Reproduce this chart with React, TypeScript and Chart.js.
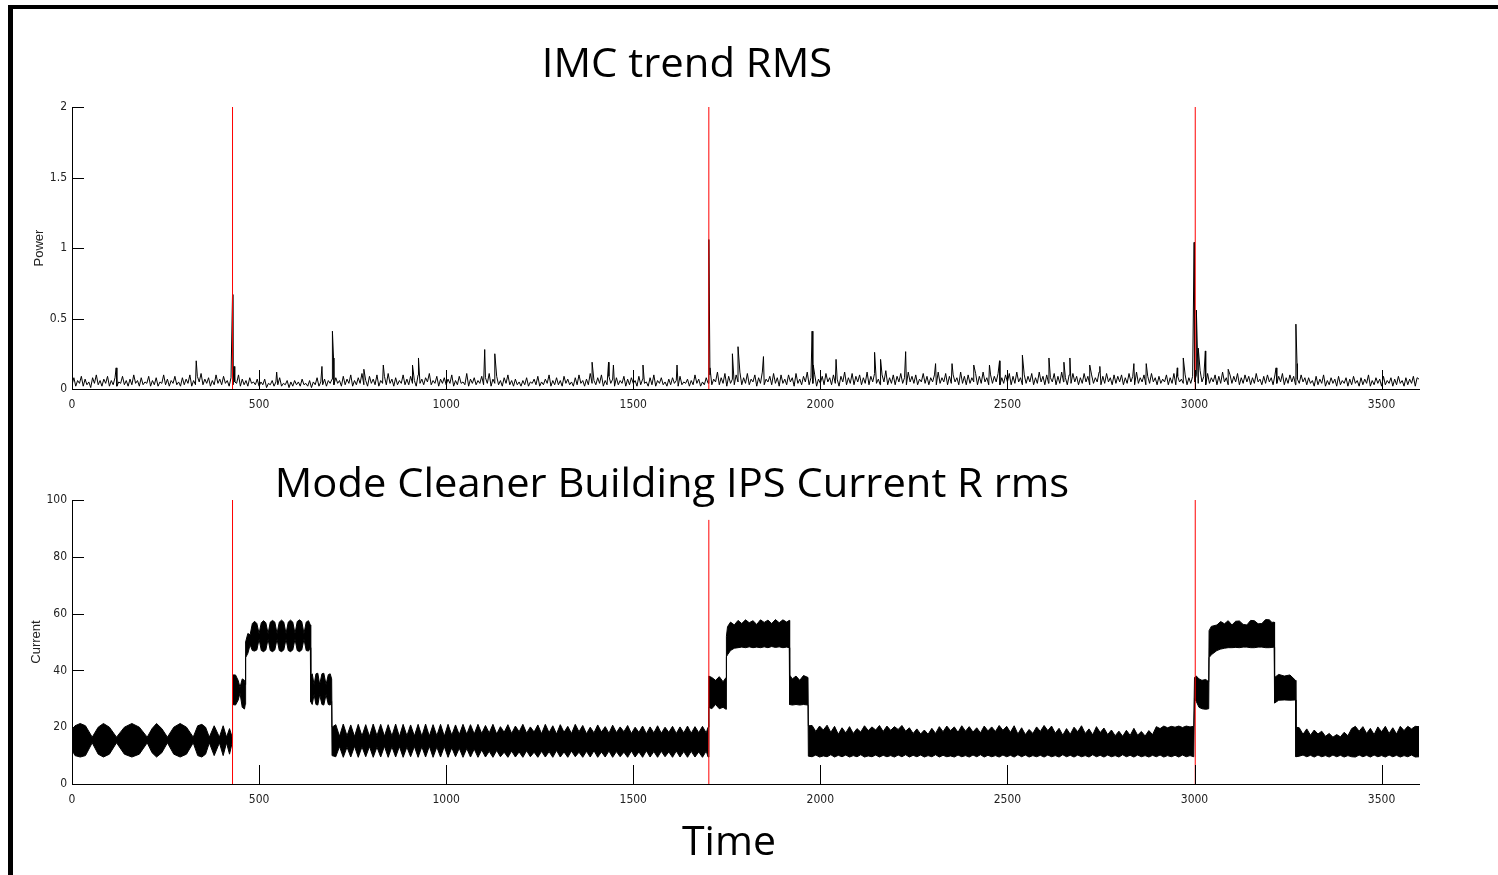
import React, { useEffect, useRef } from "react";
import { Chart, registerables } from "chart.js";

Chart.register(...registerables);

// Axis ticks
const timeTicks = [0, 500, 1000, 1500, 2000, 2500, 3000, 3500];
const timeMax = 3600;
const powerTicks = [0, 0.5, 1, 1.5, 2];
const currentTicks = [0, 20, 40, 60, 80, 100];

// IMC trend RMS, one sample every 5 s from t = 0 to 3600 (20 samples per row)
const powerStep = 5;
const powerBase = [
  0.03, 0.08, 0.02, 0.06, 0.04, 0.09, 0.02, 0.07, 0.03, 0.05, 0.01, 0.08, 0.04, 0.10, 0.03, 0.06, 0.02, 0.07, 0.04, 0.09,
  0.02, 0.06, 0.03, 0.08, 0.02, 0.05, 0.04, 0.09, 0.03, 0.06, 0.02, 0.07, 0.03, 0.10, 0.04, 0.06, 0.02, 0.08, 0.03, 0.05,
  0.04, 0.09, 0.02, 0.06, 0.03, 0.08, 0.02, 0.05, 0.04, 0.10, 0.03, 0.07, 0.02, 0.06, 0.04, 0.09, 0.03, 0.05, 0.02, 0.08,
  0.03, 0.07, 0.04, 0.10, 0.02, 0.06, 0.03, 0.09, 0.05, 0.11, 0.03, 0.07, 0.04, 0.08, 0.02, 0.06, 0.03, 0.10, 0.04, 0.07,
  0.03, 0.09, 0.04, 0.06, 0.02, 0.08, 0.03, 0.05, 0.04, 0.10, 0.02, 0.07, 0.03, 0.06, 0.02, 0.08, 0.04, 0.05, 0.03, 0.07,
  0.02, 0.05, 0.03, 0.07, 0.01, 0.04, 0.03, 0.06, 0.02, 0.05, 0.03, 0.08, 0.02, 0.04, 0.03, 0.06, 0.01, 0.05, 0.02, 0.06,
  0.03, 0.05, 0.02, 0.07, 0.03, 0.04, 0.02, 0.06, 0.01, 0.05, 0.03, 0.08, 0.02, 0.05, 0.03, 0.07, 0.02, 0.06, 0.04, 0.07,
  0.03, 0.08, 0.04, 0.06, 0.02, 0.09, 0.03, 0.07, 0.04, 0.10, 0.02, 0.06, 0.03, 0.08, 0.04, 0.11, 0.03, 0.06, 0.02, 0.09,
  0.04, 0.07, 0.03, 0.10, 0.02, 0.06, 0.04, 0.09, 0.03, 0.11, 0.04, 0.07, 0.02, 0.08, 0.03, 0.06, 0.04, 0.10, 0.03, 0.07,
  0.03, 0.09, 0.04, 0.06, 0.02, 0.10, 0.04, 0.07, 0.03, 0.08, 0.05, 0.11, 0.03, 0.06, 0.04, 0.09, 0.02, 0.07, 0.04, 0.08,
  0.03, 0.07, 0.04, 0.10, 0.02, 0.06, 0.03, 0.09, 0.04, 0.05, 0.03, 0.11, 0.02, 0.07, 0.04, 0.08, 0.03, 0.06, 0.04, 0.09,
  0.03, 0.08, 0.04, 0.11, 0.02, 0.07, 0.04, 0.09, 0.03, 0.06, 0.02, 0.08, 0.04, 0.10, 0.03, 0.06, 0.02, 0.07, 0.03, 0.05,
  0.02, 0.06, 0.03, 0.08, 0.02, 0.05, 0.04, 0.07, 0.03, 0.09, 0.02, 0.05, 0.03, 0.07, 0.04, 0.10, 0.02, 0.06, 0.03, 0.08,
  0.03, 0.06, 0.02, 0.09, 0.04, 0.07, 0.03, 0.05, 0.02, 0.08, 0.03, 0.10, 0.04, 0.06, 0.02, 0.07, 0.03, 0.11, 0.04, 0.06,
  0.03, 0.08, 0.04, 0.10, 0.02, 0.06, 0.03, 0.09, 0.04, 0.07, 0.02, 0.08, 0.03, 0.06, 0.04, 0.09, 0.02, 0.07, 0.03, 0.08,
  0.04, 0.06, 0.02, 0.09, 0.03, 0.07, 0.04, 0.05, 0.02, 0.08, 0.03, 0.10, 0.02, 0.06, 0.04, 0.08, 0.03, 0.05, 0.02, 0.07,
  0.03, 0.08, 0.04, 0.06, 0.02, 0.09, 0.03, 0.05, 0.04, 0.07, 0.02, 0.06, 0.03, 0.10, 0.04, 0.07, 0.02, 0.05, 0.03, 0.08,
  0.04, 0.10, 0.03, 0.07, 0.05, 0.12, 0.03, 0.08, 0.04, 0.11, 0.02, 0.09, 0.04, 0.07, 0.03, 0.10, 0.05, 0.12, 0.03, 0.08,
  0.04, 0.11, 0.03, 0.07, 0.05, 0.10, 0.02, 0.08, 0.04, 0.12, 0.03, 0.07, 0.05, 0.09, 0.03, 0.11, 0.04, 0.08, 0.02, 0.10,
  0.04, 0.07, 0.03, 0.10, 0.05, 0.08, 0.02, 0.11, 0.04, 0.07, 0.03, 0.09, 0.05, 0.12, 0.03, 0.08, 0.04, 0.10, 0.02, 0.07,
  0.04, 0.09, 0.03, 0.11, 0.05, 0.08, 0.03, 0.10, 0.04, 0.07, 0.02, 0.09, 0.05, 0.12, 0.03, 0.08, 0.04, 0.11, 0.03, 0.09,
  0.05, 0.10, 0.03, 0.08, 0.04, 0.12, 0.03, 0.09, 0.05, 0.11, 0.04, 0.07, 0.03, 0.10, 0.05, 0.13, 0.03, 0.08, 0.04, 0.10,
  0.03, 0.09, 0.05, 0.11, 0.04, 0.08, 0.03, 0.12, 0.05, 0.09, 0.04, 0.10, 0.03, 0.07, 0.05, 0.11, 0.04, 0.09, 0.03, 0.08,
  0.05, 0.10, 0.03, 0.12, 0.04, 0.08, 0.05, 0.11, 0.03, 0.09, 0.04, 0.10, 0.05, 0.08, 0.03, 0.12, 0.04, 0.09, 0.03, 0.10,
  0.04, 0.08, 0.05, 0.11, 0.03, 0.09, 0.04, 0.12, 0.05, 0.08, 0.03, 0.10, 0.04, 0.09, 0.05, 0.11, 0.03, 0.08, 0.04, 0.10,
  0.05, 0.11, 0.03, 0.09, 0.04, 0.12, 0.05, 0.08, 0.03, 0.10, 0.04, 0.09, 0.05, 0.11, 0.03, 0.08, 0.04, 0.12, 0.05, 0.09,
  0.03, 0.10, 0.04, 0.08, 0.05, 0.11, 0.03, 0.09, 0.04, 0.12, 0.05, 0.08, 0.03, 0.10, 0.04, 0.11, 0.05, 0.09, 0.03, 0.08,
  0.04, 0.11, 0.05, 0.09, 0.03, 0.10, 0.04, 0.08, 0.05, 0.12, 0.03, 0.09, 0.04, 0.11, 0.05, 0.08, 0.03, 0.10, 0.04, 0.09,
  0.05, 0.10, 0.03, 0.08, 0.04, 0.11, 0.05, 0.09, 0.03, 0.12, 0.04, 0.08, 0.05, 0.10, 0.03, 0.09, 0.04, 0.11, 0.05, 0.08,
  0.03, 0.09, 0.04, 0.07, 0.05, 0.10, 0.03, 0.08, 0.04, 0.11, 0.03, 0.09, 0.05, 0.07, 0.04, 0.10, 0.03, 0.08, 0.04, 0.09,
  0.05, 0.10, 0.04, 0.13, 0.05, 0.09, 0.03, 0.11, 0.04, 0.08, 0.05, 0.10, 0.03, 0.09, 0.04, 0.12, 0.05, 0.08, 0.03, 0.10,
  0.04, 0.09, 0.05, 0.11, 0.03, 0.08, 0.04, 0.10, 0.05, 0.09, 0.03, 0.08, 0.04, 0.11, 0.05, 0.07, 0.03, 0.09, 0.04, 0.10,
  0.05, 0.08, 0.03, 0.10, 0.04, 0.09, 0.05, 0.11, 0.03, 0.08, 0.04, 0.10, 0.05, 0.09, 0.03, 0.07, 0.04, 0.10, 0.05, 0.08,
  0.03, 0.08, 0.04, 0.06, 0.02, 0.09, 0.03, 0.07, 0.04, 0.10, 0.02, 0.06, 0.03, 0.08, 0.04, 0.07, 0.02, 0.09, 0.03, 0.06,
  0.04, 0.08, 0.02, 0.07, 0.03, 0.09, 0.04, 0.06, 0.02, 0.08, 0.03, 0.07, 0.04, 0.10, 0.02, 0.06, 0.03, 0.08, 0.04, 0.07,
  0.02, 0.09, 0.03, 0.06, 0.04, 0.08, 0.02, 0.07, 0.03, 0.09, 0.04, 0.06, 0.02, 0.08, 0.03, 0.07, 0.04, 0.09, 0.02, 0.08,
  0.07,
];

// Isolated peaks of the power trace: [time, power]
const powerSpikes: [number, number][] = [
  [118, 0.15], [332, 0.2], [429, 0.67], [433, 0.16], [547, 0.12],
  [668, 0.16], [696, 0.41], [699, 0.22], [780, 0.14], [832, 0.17],
  [910, 0.17], [926, 0.22], [1103, 0.28], [1130, 0.25], [1390, 0.19],
  [1434, 0.19], [1447, 0.17], [1526, 0.17], [1617, 0.17], [1702, 1.06],
  [1705, 0.15], [1765, 0.25], [1780, 0.3], [1848, 0.23], [1978, 0.41],
  [1981, 0.17], [2042, 0.21], [2145, 0.26], [2161, 0.21], [2228, 0.265],
  [2308, 0.18], [2352, 0.18], [2410, 0.17], [2452, 0.17], [2479, 0.2],
  [2540, 0.24], [2611, 0.22], [2651, 0.19], [2667, 0.22], [2720, 0.17],
  [2747, 0.16], [2838, 0.18], [2871, 0.18], [2954, 0.15], [2970, 0.22],
  [2999, 1.04], [3005, 0.56], [3010, 0.29], [3029, 0.27], [3090, 0.14],
  [3218, 0.15], [3271, 0.46], [3274, 0.18],
];

// IPS current R rms as an oscillation band: [time, lower edge, upper edge]
const currentEnvelope: [number, number, number][] = [
  [0, 12, 19], [8, 10, 20.5], [22, 9.5, 21.3], [36, 10, 20.5], [54, 14.5, 16.5],
  [70, 10.5, 20], [84, 9.5, 21.3], [100, 10.5, 20], [119, 14.5, 16.5], [140, 10.5, 20],
  [160, 9.5, 21.3], [180, 10.5, 20], [201, 14.5, 16.5], [214, 11, 19.5], [226, 9.5, 21.3],
  [240, 11, 19.5], [255, 14.5, 16.5], [272, 10.5, 20], [289, 9.5, 21.3], [306, 10.5, 20],
  [324, 14.5, 16.5], [336, 10, 20.5], [347, 9.5, 21], [357, 10.5, 20], [367, 14.5, 16.5],
  [380, 10, 20.5], [394, 14.5, 16.5], [404, 10, 20.5], [413, 14.5, 16.5], [421, 10.5, 19.5],
  [428, 14.5, 16.5],
  [429, 28, 38.4], [437, 27.8, 38.4], [444, 29.5, 36.5], [449, 32, 34], [455, 27, 37],
  [461, 26.4, 36.5], [463, 28, 35],
  [464, 44.5, 50], [470, 46, 53], [476, 49, 52.5], [482, 47, 56.5], [488, 46.8, 57.3],
  [494, 47.2, 56.5], [500, 51, 53], [506, 47, 56.8], [512, 46.6, 57.5], [518, 47.2, 56.8],
  [524, 51, 53], [530, 47, 57], [536, 46.6, 57.6], [542, 47.2, 57], [548, 51, 53],
  [554, 47, 57], [560, 46.6, 57.7], [566, 47.2, 57], [572, 51, 53], [578, 47, 57],
  [584, 46.6, 57.7], [590, 47.2, 57], [596, 51, 53], [602, 47, 57.2], [608, 46.6, 57.8],
  [614, 47.2, 57.2], [620, 51, 53], [626, 47, 57], [632, 46.8, 57.5], [637, 48, 56],
  [638, 29, 38], [642, 28, 38.8], [647, 31.5, 35], [652, 28, 38.8], [657, 27.8, 39],
  [662, 31.5, 35], [668, 28, 38.8], [673, 27.8, 39], [679, 31.5, 35], [685, 28, 38.5],
  [690, 27.8, 38.8], [694, 29, 37],
  [695, 10, 20],
  [705, 9.6, 20.9], [715, 13.2, 16.8], [725, 9.4, 21.1], [735, 13, 17], [745, 9.5, 20.8],
  [755, 13.3, 16.7], [765, 9.4, 21], [775, 13.1, 16.9], [785, 9.6, 20.9], [795, 13.2, 16.8],
  [805, 9.4, 21.1], [815, 13, 17], [825, 9.5, 21], [835, 13.3, 16.8], [845, 9.4, 20.9],
  [855, 13.1, 16.9], [865, 9.5, 21.1], [875, 13.2, 16.7], [885, 9.4, 21], [895, 13, 17],
  [905, 9.6, 20.8], [915, 13.2, 16.9], [925, 9.4, 21], [935, 13.1, 16.8], [945, 9.5, 21.1],
  [955, 13.3, 16.9], [965, 9.4, 20.9], [975, 13, 17], [985, 9.5, 21], [995, 13.2, 16.8],
  [1005, 9.4, 21], [1015, 12.8, 17.2], [1025, 9.6, 20.8], [1035, 12.6, 17.4], [1045, 9.4, 21],
  [1055, 12.5, 17.5], [1065, 9.5, 20.9], [1075, 12.3, 17.6], [1085, 9.4, 21], [1095, 12, 17.8],
  [1105, 9.5, 20.6], [1115, 11.5, 18], [1125, 9.4, 21], [1135, 11.8, 17.6], [1145, 9.6, 20.2],
  [1155, 11.2, 18.2], [1165, 9.4, 20.9], [1175, 11.6, 17.8], [1185, 9.5, 20.4], [1195, 11.3, 18.4],
  [1205, 9.4, 21], [1215, 11.7, 17.9], [1225, 9.6, 20.1], [1235, 11.2, 18.3], [1245, 9.4, 20.8],
  [1255, 11.5, 17.7], [1265, 9.5, 21], [1275, 11.4, 18.1], [1285, 9.4, 20.5], [1295, 11.8, 17.6],
  [1305, 9.5, 20.9], [1315, 11.3, 18.2], [1325, 9.4, 20.3], [1335, 11.6, 17.8], [1345, 9.6, 21],
  [1355, 11.2, 18.4], [1365, 9.4, 20.6], [1375, 11.5, 17.7], [1385, 9.5, 20], [1395, 11.7, 18],
  [1405, 9.4, 20.8], [1415, 11.3, 18.3], [1425, 9.5, 20.2], [1435, 11.6, 17.9], [1445, 9.4, 20.7],
  [1455, 11.4, 18.1], [1465, 9.6, 20.1], [1475, 11.2, 18.4], [1485, 9.4, 20.6], [1495, 11.6, 17.8],
  [1505, 9.5, 20], [1515, 11.3, 18.2], [1525, 9.4, 20.4], [1535, 11.7, 17.7], [1545, 9.5, 20.1],
  [1555, 11.4, 18], [1565, 9.4, 20.5], [1575, 11.5, 17.9], [1585, 9.6, 20], [1595, 11.3, 18.2],
  [1605, 9.4, 20.3], [1615, 11.6, 17.8], [1625, 9.5, 20.1], [1635, 11.4, 18], [1645, 9.4, 20.4],
  [1655, 11.5, 17.9], [1665, 9.5, 20.2], [1675, 11.3, 18.1], [1685, 9.4, 20.3], [1695, 11.6, 18],
  [1700, 9.5, 20],
  [1702, 27, 38], [1710, 26.5, 37.5], [1720, 28, 36.5], [1730, 26.5, 37.8], [1740, 27, 36],
  [1748, 26.3, 37.5],
  [1749, 44.8, 52], [1752, 45.5, 55.4], [1760, 47, 57], [1770, 47.8, 56], [1780, 48, 57.6],
  [1790, 48.2, 56.5], [1800, 48, 57.8], [1810, 48.3, 56.8], [1820, 48, 57.5], [1830, 48.2, 56.2],
  [1840, 48, 57.8], [1850, 48.3, 56.9], [1860, 48, 57.7], [1870, 48.4, 56.5], [1880, 48.1, 57.9],
  [1890, 48.3, 56.8], [1900, 48, 57.8], [1910, 48.2, 57], [1917, 48, 57.6],
  [1918, 28, 38.4], [1925, 27.8, 37], [1935, 28, 38], [1945, 27.8, 36.5], [1955, 28, 38.2],
  [1967, 27.8, 37.5],
  [1968, 9.8, 20.5], [1978, 9.6, 20.6], [1988, 10.2, 18.5], [1998, 9.5, 20.4], [2008, 9.9, 19],
  [2018, 9.6, 20.7], [2028, 10.3, 18.2], [2038, 9.5, 20.3], [2048, 10.1, 17.5], [2058, 9.6, 19.8],
  [2068, 10.2, 18], [2078, 9.5, 20.2], [2088, 10, 17.8], [2098, 9.6, 19.5], [2108, 10.3, 18.3],
  [2118, 9.5, 20.5], [2128, 9.9, 18.8], [2138, 9.6, 20.1], [2148, 10.2, 19], [2158, 9.5, 20.6],
  [2168, 10.1, 18.5], [2178, 9.6, 20.4], [2188, 10, 18.9], [2198, 9.5, 20.2], [2208, 10.2, 19.2],
  [2218, 9.6, 20.6], [2228, 10.3, 18.6], [2238, 9.5, 19.8], [2248, 10.1, 17.8], [2258, 9.6, 19.4],
  [2268, 10.2, 17.6], [2278, 9.5, 19], [2288, 10, 17.5], [2298, 9.6, 19.6], [2308, 10.3, 17.8],
  [2318, 9.5, 20.2], [2328, 10.1, 18.4], [2338, 9.6, 20.4], [2348, 9.9, 18.8], [2358, 9.5, 20.1],
  [2368, 10.2, 18.2], [2378, 9.6, 20.5], [2388, 10, 18.6], [2398, 9.5, 20.2], [2408, 10.2, 18.3],
  [2418, 9.6, 19.8], [2428, 10.3, 18], [2438, 9.5, 20.4], [2448, 10.1, 18.7], [2458, 9.6, 20.1],
  [2468, 10, 18.5], [2478, 9.5, 20.6], [2488, 10.2, 18.9], [2498, 9.6, 20.3], [2508, 10.1, 18.2],
  [2518, 9.5, 20.5], [2528, 10.3, 17.6], [2538, 9.6, 19.8], [2548, 10.2, 17.4], [2558, 9.5, 19.2],
  [2568, 10, 17.8], [2578, 9.6, 20.1], [2588, 10.1, 18.5], [2598, 9.5, 20.6], [2608, 10.2, 18.8],
  [2618, 9.6, 20.4], [2628, 10, 17.9], [2638, 9.5, 19.6], [2648, 10.3, 17.2], [2658, 9.6, 19.5],
  [2668, 10.1, 17.5], [2678, 9.5, 20], [2688, 10.2, 18.4], [2698, 9.6, 20.5], [2708, 10, 17.8],
  [2718, 9.5, 19.4], [2728, 10.3, 17.3], [2738, 9.6, 20.2], [2748, 10.1, 18.1], [2758, 9.5, 19.7],
  [2768, 10.2, 17.4], [2778, 9.6, 19], [2788, 10, 17], [2798, 9.5, 18.6], [2808, 10.3, 16.8],
  [2818, 9.6, 18.9], [2828, 10.1, 17.1], [2838, 9.5, 19.6], [2848, 10.2, 17.2], [2858, 9.6, 18.5],
  [2868, 10, 16.9], [2878, 9.5, 18.8], [2888, 10.1, 17.4], [2898, 9.6, 20.2], [2908, 10.2, 19.5],
  [2918, 9.5, 20.4], [2928, 10, 19.8], [2938, 9.6, 20.3], [2948, 10.1, 20], [2958, 9.5, 20.4],
  [2968, 10.2, 19.9], [2978, 9.6, 20.4], [2988, 10, 20.1], [2998, 9.6, 20.3],
  [3000, 30, 37.5], [3005, 29, 38], [3012, 27, 37], [3020, 26.5, 36.5], [3030, 26.3, 36.8],
  [3038, 26.5, 36],
  [3039, 44.5, 54], [3045, 45.5, 55.5], [3060, 47, 56], [3070, 47.5, 57.2], [3080, 47.8, 56.4],
  [3090, 48, 57.5], [3100, 48, 56], [3110, 48.1, 57.3], [3120, 48, 57.4], [3130, 48.2, 56.2],
  [3140, 48.2, 56], [3150, 48, 57.6], [3160, 48, 57.5], [3170, 48.2, 56.4], [3180, 48.2, 56.5],
  [3190, 48, 57.9], [3200, 48, 57.8], [3207, 48.1, 56.9], [3213, 48.2, 57],
  [3214, 28.5, 37.5], [3225, 29.5, 38.6], [3240, 29.6, 38], [3255, 29.5, 38.4], [3270, 29.6, 36.5],
  [3271, 9.6, 20], [3280, 9.8, 19.8], [3290, 10.2, 17.5], [3300, 9.6, 19.4], [3310, 10.1, 17.2],
  [3320, 9.5, 19], [3330, 10.2, 17.6], [3340, 9.6, 18.6], [3350, 10, 16.8], [3360, 9.5, 17.8],
  [3370, 10.2, 16.5], [3380, 9.6, 17.4], [3390, 10.1, 16.6], [3400, 9.5, 18.2], [3410, 10, 17],
  [3420, 9.6, 19.5], [3430, 9.5, 20.3], [3440, 10.2, 18.6], [3450, 9.6, 20.2], [3460, 10.1, 17.8],
  [3470, 9.5, 19.6], [3480, 10.2, 17.4], [3490, 9.6, 20.1], [3500, 10, 18.4], [3510, 9.5, 20.3],
  [3520, 10.2, 17.8], [3530, 9.6, 19.8], [3540, 10.1, 17.6], [3550, 9.5, 20.3], [3560, 10, 18.8],
  [3570, 9.6, 20.3], [3580, 10.2, 19.4], [3590, 9.5, 20.3], [3600, 9.6, 20.2],
];

// Event markers
const eventTimes = [429, 1702, 3002];
const eventTopPower = [2, 2, 2];
const eventTopCurrent = [100, 93, 100];

const tickFont = { family: "'Liberation Sans Narrow', 'DejaVu Sans Condensed', sans-serif", size: 12 };
const labelFont = { family: "'Liberation Sans', Arial, sans-serif", size: 13 };

// MATLAB-style ticks pointing into the plot box
const innerTicks = {
  id: "innerTicks",
  afterDatasetsDraw(chart: any) {
    const { ctx, chartArea } = chart;
    const xs = chart.scales.x;
    const ys = chart.scales.y;
    ctx.save();
    ctx.strokeStyle = "#000";
    ctx.lineWidth = 1;
    ctx.beginPath();
    for (const t of xs.ticks) {
      const px = Math.round(xs.getPixelForValue(t.value)) + 0.5;
      ctx.moveTo(px, chartArea.bottom);
      ctx.lineTo(px, chartArea.bottom - 19);
    }
    for (const t of ys.ticks) {
      const py = Math.round(ys.getPixelForValue(t.value)) + 0.5;
      ctx.moveTo(chartArea.left, py);
      ctx.lineTo(chartArea.left + 12, py);
    }
    ctx.stroke();
    ctx.restore();
  },
};

function markerDatasets(tops: number[]) {
  return eventTimes.map((t, i) => ({
    data: [{ x: t, y: 0 }, { x: t, y: tops[i] }],
    borderColor: "#ff0000",
    borderWidth: 1,
    pointRadius: 0,
    fill: false,
    order: 0,
  }));
}

function buildConfig(
  datasets: any[],
  yMax: number,
  yTicks: number[],
  yTitle: string,
  titlePad: number,
  padTop: number,
  xHeight: number,
  labelPad: number
) {
  return {
    type: "line" as const,
    data: { datasets },
    plugins: [innerTicks],
    options: {
      responsive: false,
      maintainAspectRatio: false,
      animation: false as const,
      devicePixelRatio: 1,
      events: [],
      layout: { padding: { top: padTop, right: 79, left: 0, bottom: 0 } },
      elements: { line: { tension: 0 } },
      plugins: { legend: { display: false }, tooltip: { enabled: false } },
      scales: {
        x: {
          type: "linear" as const,
          min: 0,
          max: timeMax,
          afterBuildTicks: (s: any) => {
            s.ticks = timeTicks.map((v) => ({ value: v }));
          },
          afterFit: (s: any) => {
            s.height = xHeight;
          },
          grid: { display: false, drawTicks: false },
          border: { display: true, color: "#000", width: 1 },
          ticks: {
            autoSkip: false,
            maxRotation: 0,
            padding: labelPad,
            color: "#222",
            font: tickFont,
            callback: (v: any) => String(v),
          },
        },
        y: {
          type: "linear" as const,
          min: 0,
          max: yMax,
          afterBuildTicks: (s: any) => {
            s.ticks = yTicks.map((v) => ({ value: v }));
          },
          afterFit: (s: any) => {
            s.width = 72;
          },
          grid: { display: false, drawTicks: false },
          border: { display: true, color: "#000", width: 1 },
          ticks: {
            autoSkip: false,
            padding: 5,
            color: "#222",
            font: tickFont,
            callback: (v: any) => String(v),
          },
          title: {
            display: true,
            text: yTitle,
            color: "#222",
            font: labelFont,
            padding: { top: titlePad, bottom: 0 },
          },
        },
      },
    },
  };
}

function powerPoints() {
  const pts = powerBase.map((v, i) => ({ x: i * powerStep, y: v }));
  for (const [t, v] of powerSpikes) pts.push({ x: t, y: v });
  pts.sort((a, b) => a.x - b.x);
  return pts;
}

export default function App() {
  const topRef = useRef<HTMLCanvasElement>(null);
  const bottomRef = useRef<HTMLCanvasElement>(null);

  useEffect(() => {
    const powerSets = [
      ...markerDatasets(eventTopPower),
      {
        data: powerPoints(),
        borderColor: "#000",
        borderWidth: 1,
        pointRadius: 0,
        fill: false,
        order: 1,
      },
    ];
    const n = eventTimes.length;
    const currentSets = [
      ...markerDatasets(eventTopCurrent),
      {
        data: currentEnvelope.map(([t, lo]) => ({ x: t, y: lo })),
        borderColor: "#000",
        borderWidth: 1,
        pointRadius: 0,
        fill: false,
        order: 1,
      },
      {
        data: currentEnvelope.map(([t, , hi]) => ({ x: t, y: hi })),
        borderColor: "#000",
        backgroundColor: "#000",
        borderWidth: 1,
        pointRadius: 0,
        fill: n,
        order: 1,
      },
    ];
    const top = new Chart(
      topRef.current!,
      buildConfig(powerSets, 2, powerTicks, "Power", 32, 107, 31, 9) as any
    );
    const bottom = new Chart(
      bottomRef.current!,
      buildConfig(currentSets, 100, currentTicks, "Current", 29, 80, 91, 9) as any
    );
    return () => {
      top.destroy();
      bottom.destroy();
    };
  }, []);

  const title: React.CSSProperties = {
    position: "absolute",
    fontFamily: "'Open Sans', 'Noto Sans', sans-serif",
    lineHeight: 1,
    whiteSpace: "nowrap",
    color: "#000",
  };

  return (
    <div
      style={{
        position: "fixed",
        left: 0,
        top: 0,
        width: 1498,
        height: 875,
        background: "#fff",
        overflow: "hidden",
      }}
    >
      <div style={{ position: "absolute", left: 8, top: 5, width: 1490, height: 4, background: "#000" }} />
      <div style={{ position: "absolute", left: 8, top: 5, width: 5, height: 870, background: "#000" }} />
      <canvas
        ref={topRef}
        width={1498}
        height={420}
        style={{ position: "absolute", left: 0, top: 0, width: 1498, height: 420 }}
      />
      <canvas
        ref={bottomRef}
        width={1498}
        height={455}
        style={{ position: "absolute", left: 0, top: 420, width: 1498, height: 455 }}
      />
      <div
        style={{
          ...title,
          left: 687,
          top: 78 - 0.888 * 40,
          fontSize: 40,
          transform: "translateX(-50%) scaleX(1.045)",
        }}
      >
        IMC trend RMS
      </div>
      <div
        style={{
          ...title,
          left: 672,
          top: 497 - 0.888 * 41,
          fontSize: 41,
          transform: "translateX(-50%) scaleX(1.017)",
        }}
      >
        Mode Cleaner Building IPS Current R rms
      </div>
      <div style={{ ...title, left: 729, top: 855 - 0.888 * 41, fontSize: 41, transform: "translateX(-50%)" }}>
        Time
      </div>
    </div>
  );
}
